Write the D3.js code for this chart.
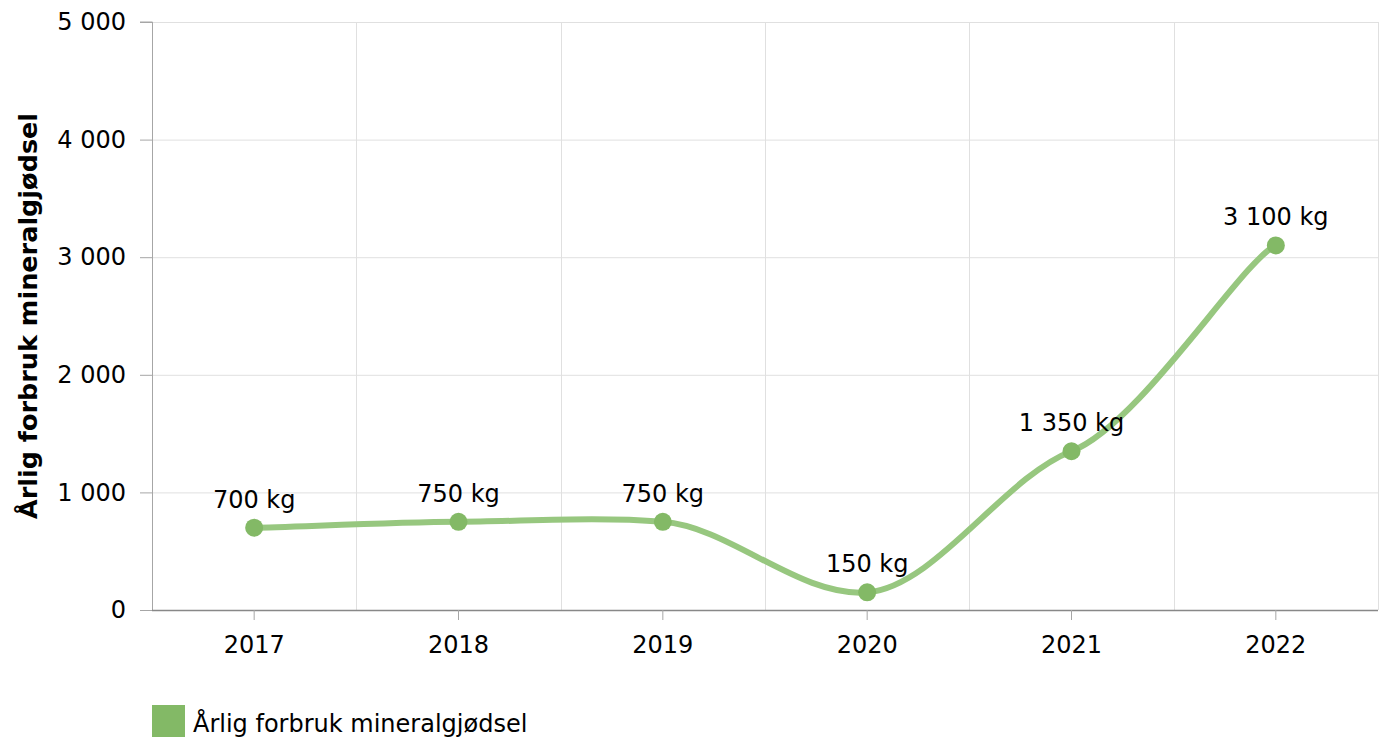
<!DOCTYPE html>
<html>
<head>
<meta charset="utf-8">
<script src="https://cdn.jsdelivr.net/npm/d3@7"></script>
<style>
  html, body { margin: 0; padding: 0; background: #fff; }
  svg { display: block; font-family: Verdana, "DejaVu Sans", sans-serif; }
</style>
</head>
<body>
<svg width="1384" height="737"></svg>
<script>
(function (d3) {
    'use strict';

    const years = ['2017', '2018', '2019', '2020', '2021', '2022'];
    const values = [700, 750, 750, 150, 1350, 3100];
    const yTicks = [0, 1000, 2000, 3000, 4000, 5000];
    const seriesName = 'Årlig forbruk mineralgjødsel';
    const yTitle = 'Årlig forbruk mineralgjødsel';

    const svg = d3.select('svg');
    const margin = {top: 22, right: 6, bottom: 127, left: 152};
    const width = 1384, height = 737;
    const innerWidth = width - margin.left - margin.right;
    const innerHeight = height - margin.top - margin.bottom;
    const fontSize = 24;

    const x = d3.scaleBand().domain(years).range([0, innerWidth]);
    const y = d3.scaleLinear().domain([0, 5000]).range([innerHeight, 0]);

    const fmt = v => d3.format(',')(v).replace(/,/g, ' ');

    const g = svg.append('g')
        .attr('transform', `translate(${margin.left},${margin.top})`);

    // grid
    g.selectAll('.hgrid').data(yTicks.filter(d => d > 0))
        .enter().append('line')
        .attr('x1', 0).attr('x2', innerWidth)
        .attr('y1', d => y(d) + 0.5).attr('y2', d => y(d) + 0.5)
        .attr('stroke', '#e0e0e0');

    const edges = years.map(d => x(d)).concat([innerWidth]).slice(1);
    g.selectAll('.vgrid').data(edges)
        .enter().append('line')
        .attr('x1', d => Math.round(d) + 0.5).attr('x2', d => Math.round(d) + 0.5)
        .attr('y1', 0).attr('y2', innerHeight)
        .attr('stroke', '#e0e0e0');

    // y axis
    const yAxis = g.append('g').call(d3.axisLeft(y).tickValues(yTicks).tickFormat(fmt).tickSize(12).tickPadding(14));
    yAxis.select('.domain').attr('stroke', '#a6a6a6').attr('d', `M-12,${innerHeight}.5H0.5V0H-12`);
    yAxis.selectAll('.tick line').attr('stroke', '#a6a6a6');
    yAxis.selectAll('.tick text').attr('font-size', fontSize).attr('fill', '#000')
        .attr('font-family', 'Verdana, "DejaVu Sans", sans-serif');

    // x axis
    const xAxis = g.append('g').attr('transform', `translate(0,${innerHeight})`)
        .call(d3.axisBottom(x).tickSize(10).tickPadding(16));
    xAxis.select('.domain').attr('stroke', '#888').attr('stroke-width', 1.5)
        .attr('d', `M0,0.5H${innerWidth}`);
    xAxis.selectAll('.tick line').attr('stroke', '#a6a6a6');
    xAxis.selectAll('.tick text').attr('font-size', fontSize).attr('fill', '#000')
        .attr('font-family', 'Verdana, "DejaVu Sans", sans-serif');

    // axis title
    svg.append('text')
        .attr('transform', `translate(37,${margin.top + innerHeight / 2}) rotate(-90)`)
        .attr('text-anchor', 'middle')
        .attr('font-size', 25.5).attr('font-weight', 'bold')
        .text(yTitle);

    // tension smoothing (catmull-rom style, reduced in y)
    function tensionCurve(context) {
        let pts = [];
        const tx = 1, ty = 0.45;
        return {
            lineStart() { pts = []; },
            lineEnd() {
                const n = pts.length;
                pts.forEach((p, i) => {
                    if (i === 0) { context.moveTo(p[0], p[1]); return; }
                    const p0 = pts[Math.max(i - 2, 0)], p1 = pts[i - 1], p2 = p, p3 = pts[Math.min(i + 1, n - 1)];
                    context.bezierCurveTo(
                        p1[0] + (p2[0] - p0[0]) / 6 * tx, p1[1] + (p2[1] - p0[1]) / 6 * ty,
                        p2[0] - (p3[0] - p1[0]) / 6 * tx, p2[1] - (p3[1] - p1[1]) / 6 * ty,
                        p2[0], p2[1]);
                });
            },
            areaStart() {}, areaEnd() {},
            point(px, py) { pts.push([+px, +py]); }
        };
    }

    const data = years.map((d, i) => ({year: d, value: values[i]}));
    const cx = d => x(d.year) + x.bandwidth() / 2;

    const line = d3.line().x(cx).y(d => y(d.value)).curve(tensionCurve);
    g.append('path').datum(data)
        .attr('d', line)
        .attr('fill', 'none')
        .attr('stroke', '#97c77f')
        .attr('stroke-width', 6)
        .attr('stroke-linecap', 'round');

    g.selectAll('circle').data(data)
        .enter().append('circle')
        .attr('cx', cx).attr('cy', d => y(d.value))
        .attr('r', 9)
        .attr('fill', '#83b966');

    g.selectAll('.lbl').data(data)
        .enter().append('text')
        .attr('x', cx).attr('y', d => y(d.value) - 20)
        .attr('text-anchor', 'middle')
        .attr('font-size', fontSize)
        .text(d => fmt(d.value) + ' kg');

    // legend
    const lg = svg.append('g').attr('transform', 'translate(152,705)');
    lg.append('rect').attr('width', 33).attr('height', 32).attr('fill', '#83b966');
    lg.append('text').attr('x', 41).attr('y', 27).attr('font-size', fontSize).text(seriesName);
}(d3));
</script>
</body>
</html>
